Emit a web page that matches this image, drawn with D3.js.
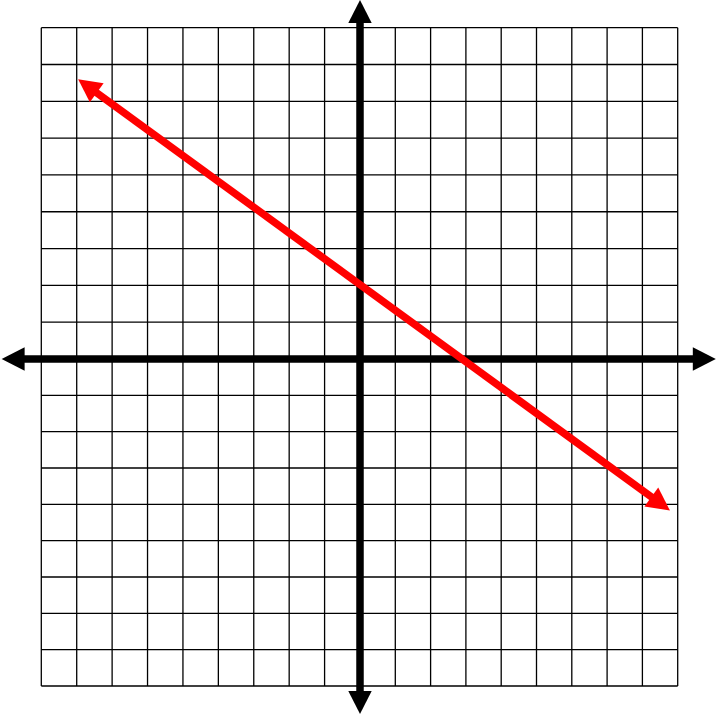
<!DOCTYPE html>
<html>
<head>
<meta charset="utf-8">
<script src="https://cdn.jsdelivr.net/npm/d3@7"></script>
<style>
  body { margin: 0; background: #fff; }
  svg { display: block; }
  .grid line { stroke: #000; stroke-width: 1.3; }
  .axis { stroke: #000; stroke-width: 7.5; }
  .graph { stroke: #ff0000; stroke-width: 7.5; }
</style>
</head>
<body>
<script>
const width = 718,
  height = 717,
  headLength = 23,
  headHalfWidth = 11.7;

// grid units and tick positions
const gridTicks = d3.range(-9, 10);
const xAxisExtent = [-10.12, 10.08];
const yAxisExtent = [-9.77, 9.75];

// the plotted line, endpoints at the arrow tips
const lineX = [-7.96, 8.78];
const lineY = [7.6, -4.17];

const x = d3.scaleLinear().domain([-9, 0, 9]).range([41.3, 360, 677.7]);
const y = d3.scaleLinear().domain([-9, 0, 9]).range([686, 359, 27.7]);

const svg = d3
  .select("body")
  .append("svg")
  .attr("width", width)
  .attr("height", height);

// Grid lines
const grid = svg.append("g").attr("class", "grid");
grid
  .selectAll("line.v")
  .data(gridTicks)
  .enter()
  .append("line")
  .attr("class", "v")
  .attr("x1", x)
  .attr("x2", x)
  .attr("y1", y(9))
  .attr("y2", y(-9));
grid
  .selectAll("line.h")
  .data(gridTicks)
  .enter()
  .append("line")
  .attr("class", "h")
  .attr("y1", y)
  .attr("y2", y)
  .attr("x1", x(-9))
  .attr("x2", x(9));

// Draws a shaft between two points with an arrow head on both ends
function doubleArrow(g, p0, p1, cls, fill) {
  const dx = p1[0] - p0[0],
    dy = p1[1] - p0[1],
    len = Math.hypot(dx, dy),
    ux = dx / len,
    uy = dy / len;
  const b0 = [p0[0] + ux * headLength, p0[1] + uy * headLength],
    b1 = [p1[0] - ux * headLength, p1[1] - uy * headLength];

  g.append("line")
    .attr("class", cls)
    .attr("x1", b0[0] - ux)
    .attr("y1", b0[1] - uy)
    .attr("x2", b1[0] + ux)
    .attr("y2", b1[1] + uy);

  [
    [p0, b0],
    [p1, b1],
  ].forEach(([tip, base]) => {
    const pts = [
      tip,
      [base[0] - uy * headHalfWidth, base[1] + ux * headHalfWidth],
      [base[0] + uy * headHalfWidth, base[1] - ux * headHalfWidth],
    ];
    g.append("path")
      .attr("d", "M" + pts.join("L") + "Z")
      .attr("fill", fill);
  });
}

// Axes
const axes = svg.append("g");
doubleArrow(
  axes,
  [x(xAxisExtent[0]), y(0)],
  [x(xAxisExtent[1]), y(0)],
  "axis",
  "#000"
);
doubleArrow(
  axes,
  [x(0), y(yAxisExtent[1])],
  [x(0), y(yAxisExtent[0])],
  "axis",
  "#000"
);

// Red line on top
doubleArrow(
  svg.append("g"),
  [x(lineX[0]), y(lineY[0])],
  [x(lineX[1]), y(lineY[1])],
  "graph",
  "#ff0000"
);
</script>
</body>
</html>
